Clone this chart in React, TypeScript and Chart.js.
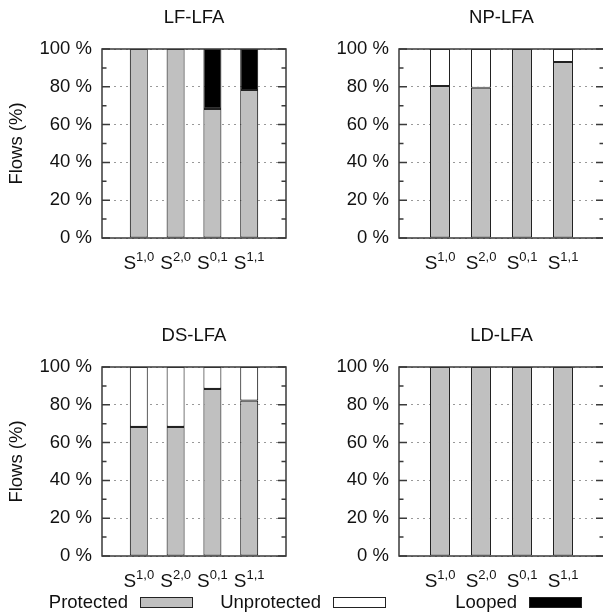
import React, { useEffect, useRef } from "react";
import { Chart, registerables } from "chart.js";

Chart.register(...registerables);

// ---- data ----
const categories = ["S^{1,0}", "S^{2,0}", "S^{0,1}", "S^{1,1}"];
const seriesNames = ["Protected", "Unprotected", "Looped"];
const seriesColors = ["#c0c0c0", "#ffffff", "#000000"];
const yTickStep = 20;

const lfProtected = [100, 100, 68.3, 78.3];
const lfUnprotected = [0, 0, 0, 0];
const lfLooped = [0, 0, 31.7, 21.7];

const npProtected = [80.4, 79.5, 100, 93.1];
const npUnprotected = [19.6, 20.5, 0, 6.9];
const npLooped = [0, 0, 0, 0];

const dsProtected = [68.3, 68.3, 88.4, 82.2];
const dsUnprotected = [31.7, 31.7, 11.6, 17.8];
const dsLooped = [0, 0, 0, 0];

const ldProtected = [100, 100, 100, 100];
const ldUnprotected = [0, 0, 0, 0];
const ldLooped = [0, 0, 0, 0];

const yAxisTitle = "Flows (%)";

// ---- layout / style ----
const FONT = '"Liberation Sans", Arial, sans-serif';
const TEXT = "#111";

const panels = [
  { title: "LF-LFA", series: [lfProtected, lfUnprotected, lfLooped], left: 0, top: 0, width: 300, height: 300, axisWidth: 102, padRight: 14, yTitle: true },
  { title: "NP-LFA", series: [npProtected, npUnprotected, npLooped], left: 301, top: 0, width: 306, height: 300, axisWidth: 98, padRight: 3, yTitle: false },
  { title: "DS-LFA", series: [dsProtected, dsUnprotected, dsLooped], left: 0, top: 318, width: 300, height: 296, axisWidth: 102, padRight: 14, yTitle: true },
  { title: "LD-LFA", series: [ldProtected, ldUnprotected, ldLooped], left: 301, top: 318, width: 306, height: 296, axisWidth: 98, padRight: 3, yTitle: false },
];

const legendLayout = [
  { textRight: 128, swatchLeft: 140 },
  { textRight: 321, swatchLeft: 333 },
  { textRight: 517, swatchLeft: 529 },
];

function makeDecorPlugin(title: string, yTitle: boolean) {
  return {
    id: "decor",
    afterDatasetsDraw(chart: any) {
      const { ctx, chartArea } = chart;
      const { left, right, top, bottom } = chartArea;
      const y = chart.scales.y;
      const x = chart.scales.x;
      ctx.save();
      // frame
      ctx.strokeStyle = "#3a3a3a";
      ctx.lineWidth = 1.5;
      ctx.strokeRect(left, top, right - left, bottom - top);
      // inner tick marks (major + minor, mirrored)
      for (let v = 0; v <= 100; v += yTickStep / 2) {
        const py = y.getPixelForValue(v);
        const len = v % yTickStep === 0 ? 8 : 4.5;
        ctx.beginPath();
        ctx.moveTo(left, py);
        ctx.lineTo(left + len, py);
        ctx.moveTo(right - len, py);
        ctx.lineTo(right, py);
        ctx.stroke();
      }
      // title
      ctx.fillStyle = TEXT;
      ctx.font = `18.5px ${FONT}`;
      ctx.textAlign = "center";
      ctx.textBaseline = "middle";
      ctx.fillText(title, (left + right) / 2, 18);
      // y title
      if (yTitle) {
        ctx.save();
        ctx.translate(17, (top + bottom) / 2);
        ctx.rotate(-Math.PI / 2);
        ctx.fillText(yAxisTitle, 0, 0);
        ctx.restore();
      }
      // x labels with superscripts
      ctx.textAlign = "left";
      ctx.textBaseline = "alphabetic";
      categories.forEach((lab, i) => {
        const m = lab.match(/^(.*)\^\{(.*)\}$/);
        const base = m ? m[1] : lab;
        const sup = m ? m[2] : "";
        const cx = x.getPixelForValue(i + 1);
        ctx.font = `19px ${FONT}`;
        const wb = ctx.measureText(base).width;
        ctx.font = `13px ${FONT}`;
        const ws = ctx.measureText(sup).width;
        const start = cx - (wb + ws) / 2;
        const baseY = bottom + 30.5;
        ctx.font = `19px ${FONT}`;
        ctx.fillText(base, start, baseY);
        ctx.font = `13px ${FONT}`;
        ctx.fillText(sup, start + wb, baseY - 8);
      });
      ctx.restore();
    },
  };
}

function Panel(props: any) {
  const { title, series, left, top, width, height, axisWidth, padRight, yTitle } = props;
  const ref = useRef<HTMLCanvasElement>(null);
  useEffect(() => {
    const canvas = ref.current!;
    const pad = (a: number[]) => [null, ...a.map((v) => (v > 0 ? v : null)), null];
    const chart = new Chart(canvas, {
      type: "bar",
      data: {
        labels: ["", ...categories, ""],
        datasets: seriesNames.map((name, i) => ({
          label: name,
          data: pad(series[i]),
          backgroundColor: seriesColors[i],
          borderColor: "#222",
          borderWidth: 1.1,
          borderSkipped: false,
          categoryPercentage: 1,
          barPercentage: 0.49,
        })),
      } as any,
      options: {
        responsive: false,
        animation: false,
        devicePixelRatio: 1,
        layout: { padding: { top: 49, right: padRight, bottom: 0, left: 0 } },
        plugins: {
          legend: { display: false },
          tooltip: { enabled: false },
          title: { display: false },
        },
        scales: {
          x: {
            stacked: true,
            offset: false,
            grid: { display: false },
            border: { display: false },
            ticks: { display: false },
            afterFit: (s: any) => {
              s.height = height - 238;
            },
          },
          y: {
            stacked: true,
            min: 0,
            max: 100,
            ticks: {
              stepSize: yTickStep,
              padding: 10,
              color: TEXT,
              font: { family: FONT, size: 18.5 },
              callback: (v: any) => `${v} %`,
            },
            grid: { color: "#999", lineWidth: 1, drawTicks: false },
            border: { display: false, dash: [2, 4] },
            afterFit: (s: any) => {
              s.width = axisWidth;
            },
          },
        },
      } as any,
      plugins: [makeDecorPlugin(title, yTitle)],
    });
    return () => chart.destroy();
  }, []);
  return (
    <canvas
      ref={ref}
      width={width}
      height={height}
      style={{ position: "absolute", left, top, width, height }}
    />
  );
}

export default function App() {
  return (
    <div
      style={{
        position: "absolute",
        left: 0,
        top: 0,
        width: 603,
        height: 614,
        overflow: "hidden",
        background: "#fff",
      }}
    >
      {panels.map((p) => (
        <Panel key={p.title} {...p} />
      ))}
      {seriesNames.map((name, i) => (
        <React.Fragment key={name}>
          <div
            style={{
              position: "absolute",
              left: legendLayout[i].textRight - 150,
              width: 150,
              top: 591,
              textAlign: "right",
              font: `18.5px ${FONT}`,
              lineHeight: "21px",
              color: TEXT,
              whiteSpace: "nowrap",
            }}
          >
            {name}
          </div>
          <div
            style={{
              position: "absolute",
              left: legendLayout[i].swatchLeft,
              top: 597,
              width: 53,
              height: 11,
              boxSizing: "border-box",
              background: seriesColors[i],
              border: "1.5px solid #222",
            }}
          />
        </React.Fragment>
      ))}
    </div>
  );
}
